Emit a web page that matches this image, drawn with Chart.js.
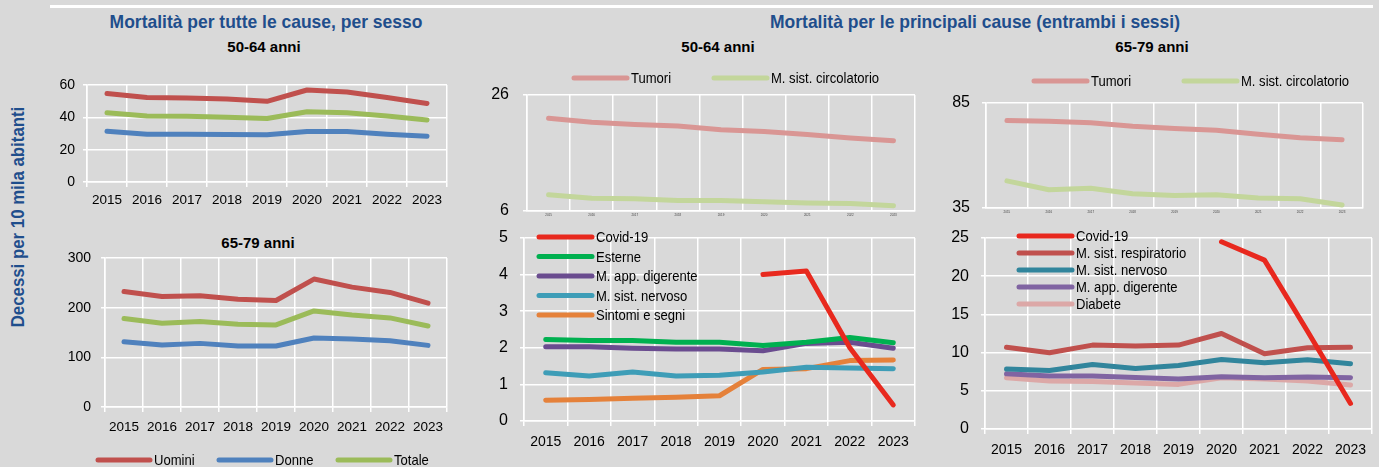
<!DOCTYPE html>
<html>
<head>
<meta charset="utf-8">
<script src="https://cdn.jsdelivr.net/npm/chart.js@4.4.1/dist/chart.umd.min.js"></script>
<style>
  body {
    margin: 0;
    width: 1379px;
    height: 467px;
    overflow: hidden;
    position: relative;
    background: #d9d9d9;
    font-family: "Liberation Sans", Arial, sans-serif;
  }
  canvas { position: absolute; }
  .title {
    position: absolute;
    white-space: nowrap;
    font-weight: bold;
  }
  .main { color: #1f4e8c; font-size: 19px; transform: translate(-50%, -50%) scaleX(0.92); }
  .sub { color: #000; font-size: 15px; transform: translate(-50%, -50%); }
  #ytitle {
    position: absolute;
    left: 18px;
    top: 217px;
    white-space: nowrap;
    font-weight: bold;
    font-size: 19px;
    color: #1f4e8c;
    transform: translate(-50%, -50%) rotate(-90deg) scaleX(0.885);
  }
  #topline { position: absolute; left: 50px; top: 5px; width: 1323px; height: 3px; background: #fff; }
</style>
</head>
<body>
<div id="topline"></div>
<div class="title main" style="left:266px;top:22px">Mortalità per tutte le cause, per sesso</div>
<div class="title sub" style="left:264px;top:46px">50-64 anni</div>
<div class="title sub" style="left:258px;top:242px">65-79 anni</div>
<div class="title main" style="left:975px;top:22px">Mortalità per le principali cause (entrambi i sessi)</div>
<div class="title sub" style="left:718px;top:46px">50-64 anni</div>
<div class="title sub" style="left:1152px;top:46px">65-79 anni</div>
<div id="ytitle">Decessi per 10 mila abitanti</div>

<script>
// Years on every x axis
const years = ['2015', '2016', '2017', '2018', '2019', '2020', '2021', '2022', '2023'];

// All causes, by sex
const uomini50 = [54.8, 52.3, 51.9, 51.3, 49.9, 56.9, 55.7, 52.3, 48.6];
const donne50 = [31.4, 29.6, 29.6, 29.4, 29.2, 31.2, 31.2, 29.6, 28.3];
const totale50 = [42.8, 40.8, 40.6, 40.1, 39.3, 43.5, 42.8, 40.8, 38.3];
const uomini65 = [232.6, 222.5, 223.9, 217.1, 214.4, 257.6, 241.4, 230.6, 209.0];
const donne65 = [131.5, 124.7, 128.1, 122.7, 122.7, 138.9, 136.9, 133.5, 124.1];
const totale65 = [178.0, 168.6, 172.0, 166.6, 165.2, 193.5, 185.4, 179.4, 163.2];

// Main causes, 50-64
const tumori50 = [22.0, 21.3, 20.9, 20.65, 20.0, 19.7, 19.2, 18.6, 18.1];
const circolatorio50 = [8.8, 8.2, 8.1, 7.8, 7.8, 7.6, 7.4, 7.3, 6.9];
const covid50 = [null, null, null, null, null, 4.0, 4.1, 2.0, 0.44];
const esterne50 = [2.23, 2.2, 2.2, 2.15, 2.15, 2.06, 2.15, 2.28, 2.14];
const digerente50 = [2.03, 2.03, 1.99, 1.97, 1.97, 1.92, 2.12, 2.15, 1.99];
const nervoso50 = [1.32, 1.23, 1.34, 1.23, 1.25, 1.34, 1.47, 1.45, 1.43];
const sintomi50 = [0.57, 0.59, 0.62, 0.65, 0.69, 1.41, 1.43, 1.65, 1.67];

// Main causes, 65-79
const tumori65 = [76.7, 76.3, 75.6, 73.9, 72.9, 72.0, 70.1, 68.5, 67.5];
const circolatorio65 = [47.9, 43.7, 44.4, 41.8, 41.0, 41.3, 39.8, 39.4, 36.4];
const covid65 = [null, null, null, null, null, 24.5, 22.1, 12.8, 3.35];
const respiratorio65 = [10.7, 9.97, 10.98, 10.85, 10.98, 12.5, 9.84, 10.63, 10.7];
const nervoso65 = [7.84, 7.67, 8.45, 7.93, 8.32, 9.1, 8.67, 9.06, 8.54];
const digerente65 = [7.23, 6.93, 6.93, 6.75, 6.53, 6.84, 6.71, 6.8, 6.71];
const diabete65 = [6.71, 6.27, 6.23, 6.01, 5.84, 6.71, 6.53, 6.27, 5.75];

const FONT = '"Liberation Sans", Arial, sans-serif';

// Draws the line + label legend at fixed page positions (text squeezed a bit, like Arial Narrow)
const lineLegend = {
  id: 'lineLegend',
  afterDraw(chart, args, opts) {
    if (!opts.x) return;
    const ctx = chart.ctx;
    ctx.save();
    ctx.font = `${opts.size}px ${FONT}`;
    ctx.textBaseline = 'middle';
    chart.data.datasets.forEach((ds, i) => {
      const x = opts.x[i] - opts.left;
      const y = opts.y[i] - opts.top;
      ctx.strokeStyle = ds.borderColor;
      ctx.lineWidth = ds.borderWidth;
      ctx.lineCap = 'round';
      ctx.beginPath();
      ctx.moveTo(x, y);
      ctx.lineTo(x + opts.len, y);
      ctx.stroke();
      ctx.save();
      ctx.translate(x + opts.len + 4, y + 1);
      ctx.scale(0.87, 1);
      ctx.fillStyle = '#000';
      ctx.fillText(ds.label, 0, 0);
      ctx.restore();
    });
    ctx.restore();
  },
};

function series(label, data, color) {
  return {
    label,
    data,
    borderColor: color,
    backgroundColor: color,
    borderWidth: 5,
    pointRadius: 0,
    tension: 0,
    borderJoinStyle: 'round',
    borderCapStyle: 'round',
    spanGaps: false,
  };
}

// rect = canvas box on the page, plot = chart area on the page
function drawPanel(rect, plot, datasets, y, x, legend) {
  const canvas = document.createElement('canvas');
  canvas.width = rect.w;
  canvas.height = rect.h;
  canvas.style.left = rect.x + 'px';
  canvas.style.top = rect.y + 'px';
  document.body.appendChild(canvas);

  const yWidth = plot.left - rect.x;
  const xHeight = rect.y + rect.h - plot.bottom;

  return new Chart(canvas.getContext('2d'), {
    type: 'line',
    data: { labels: years, datasets },
    options: {
      responsive: false,
      animation: false,
      layout: {
        padding: {
          top: plot.top - rect.y,
          right: rect.x + rect.w - plot.right,
          left: 0,
          bottom: 0,
        },
      },
      plugins: {
        legend: { display: false },
        tooltip: { enabled: false },
        lineLegend: Object.assign({ left: rect.x, top: rect.y }, legend),
      },
      scales: {
        x: {
          offset: true,
          afterFit: (scale) => {
            scale.height = xHeight;
            scale.paddingLeft = 0;
            scale.paddingRight = 0;
          },
          grid: {
            offset: true,
            color: '#fff',
            lineWidth: 1.5,
            tickColor: '#fff',
            tickLength: x.tickLength,
            drawTicks: x.tickLength > 0,
          },
          border: { color: '#fff', width: 1.5 },
          ticks: {
            color: x.color || '#000',
            padding: x.padding,
            maxRotation: 0,
            autoSkip: false,
            font: { family: FONT, size: x.size },
          },
        },
        y: {
          min: y.min,
          max: y.max,
          afterFit: (scale) => {
            scale.width = yWidth;
            scale.paddingTop = 0;
            scale.paddingBottom = 0;
          },
          grid: {
            color: '#fff',
            lineWidth: 1.5,
            tickColor: '#fff',
            tickLength: 4,
          },
          border: { color: '#fff', width: 1.5 },
          ticks: {
            stepSize: y.step,
            color: '#000',
            padding: y.padding,
            font: { family: FONT, size: y.size },
          },
        },
      },
    },
    plugins: [lineLegend],
  });
}

// Top left: all causes 50-64
drawPanel(
  { x: 40, y: 60, w: 420, h: 160 },
  { left: 87, top: 85, right: 447, bottom: 182 },
  [
    series('Uomini', uomini50, '#c0504d'),
    series('Donne', donne50, '#4f81bd'),
    series('Totale', totale50, '#9bbb59'),
  ],
  { min: 0, max: 60, step: 20, size: 14, padding: 8 },
  { size: 13.5, tickLength: 5, padding: 5 },
  {}
);

// Bottom left: all causes 65-79, with the shared legend
drawPanel(
  { x: 40, y: 248, w: 420, h: 219 },
  { left: 105, top: 258, right: 447, bottom: 407 },
  [
    series('Uomini', uomini65, '#c0504d'),
    series('Donne', donne65, '#4f81bd'),
    series('Totale', totale65, '#9bbb59'),
  ],
  { min: 0, max: 300, step: 100, size: 14, padding: 10 },
  { size: 13.5, tickLength: 5, padding: 7 },
  { x: [98, 219, 338], y: [460, 460, 460], len: 52, size: 15 }
);

// Middle top: tumours and circulatory, 50-64
drawPanel(
  { x: 470, y: 60, w: 455, h: 165 },
  { left: 527, top: 95, right: 915, bottom: 211 },
  [
    series('Tumori', tumori50, '#d99694'),
    series('M. sist. circolatorio', circolatorio50, '#c3d69b'),
  ],
  { min: 6, max: 26, step: 20, size: 16, padding: 14 },
  { size: 3, tickLength: 0, padding: 2, color: '#444' },
  { x: [574, 714], y: [78, 78], len: 53, size: 15 }
);

// Middle bottom: other causes, 50-64
drawPanel(
  { x: 470, y: 228, w: 455, h: 239 },
  { left: 524, top: 238, right: 915, bottom: 421 },
  [
    series('Covid-19', covid50, '#e8291e'),
    series('Esterne', esterne50, '#00b050'),
    series('M. app. digerente', digerente50, '#6a4c8f'),
    series('M. sist. nervoso', nervoso50, '#3e9db7'),
    series('Sintomi e segni', sintomi50, '#e5813a'),
  ],
  { min: 0, max: 5, step: 1, size: 16, padding: 12 },
  { size: 14, tickLength: 5, padding: 8 },
  { x: [539, 539, 539, 539, 539], y: [237, 256.5, 276, 295.5, 315], len: 53, size: 15 }
);

// Right top: tumours and circulatory, 65-79
drawPanel(
  { x: 930, y: 60, w: 445, h: 165 },
  { left: 986, top: 103, right: 1363, bottom: 208 },
  [
    series('Tumori', tumori65, '#d99694'),
    series('M. sist. circolatorio', circolatorio65, '#c3d69b'),
  ],
  { min: 35, max: 85, step: 50, size: 16, padding: 12 },
  { size: 3, tickLength: 0, padding: 2, color: '#444' },
  { x: [1034, 1184], y: [81, 81], len: 53, size: 15 }
);

// Right bottom: other causes, 65-79
drawPanel(
  { x: 930, y: 228, w: 449, h: 239 },
  { left: 985, top: 238, right: 1372, bottom: 429 },
  [
    series('Covid-19', covid65, '#e8281e'),
    series('M. sist. respiratorio', respiratorio65, '#c0504d'),
    series('M. sist. nervoso', nervoso65, '#31859c'),
    series('M. app. digerente', digerente65, '#8064a2'),
    series('Diabete', diabete65, '#dca8a7'),
  ],
  { min: 0, max: 25, step: 5, size: 16, padding: 12 },
  { size: 14, tickLength: 5, padding: 8 },
  { x: [1019, 1019, 1019, 1019, 1019], y: [236, 253, 270, 287, 304], len: 53, size: 15 }
);
</script>
</body>
</html>
